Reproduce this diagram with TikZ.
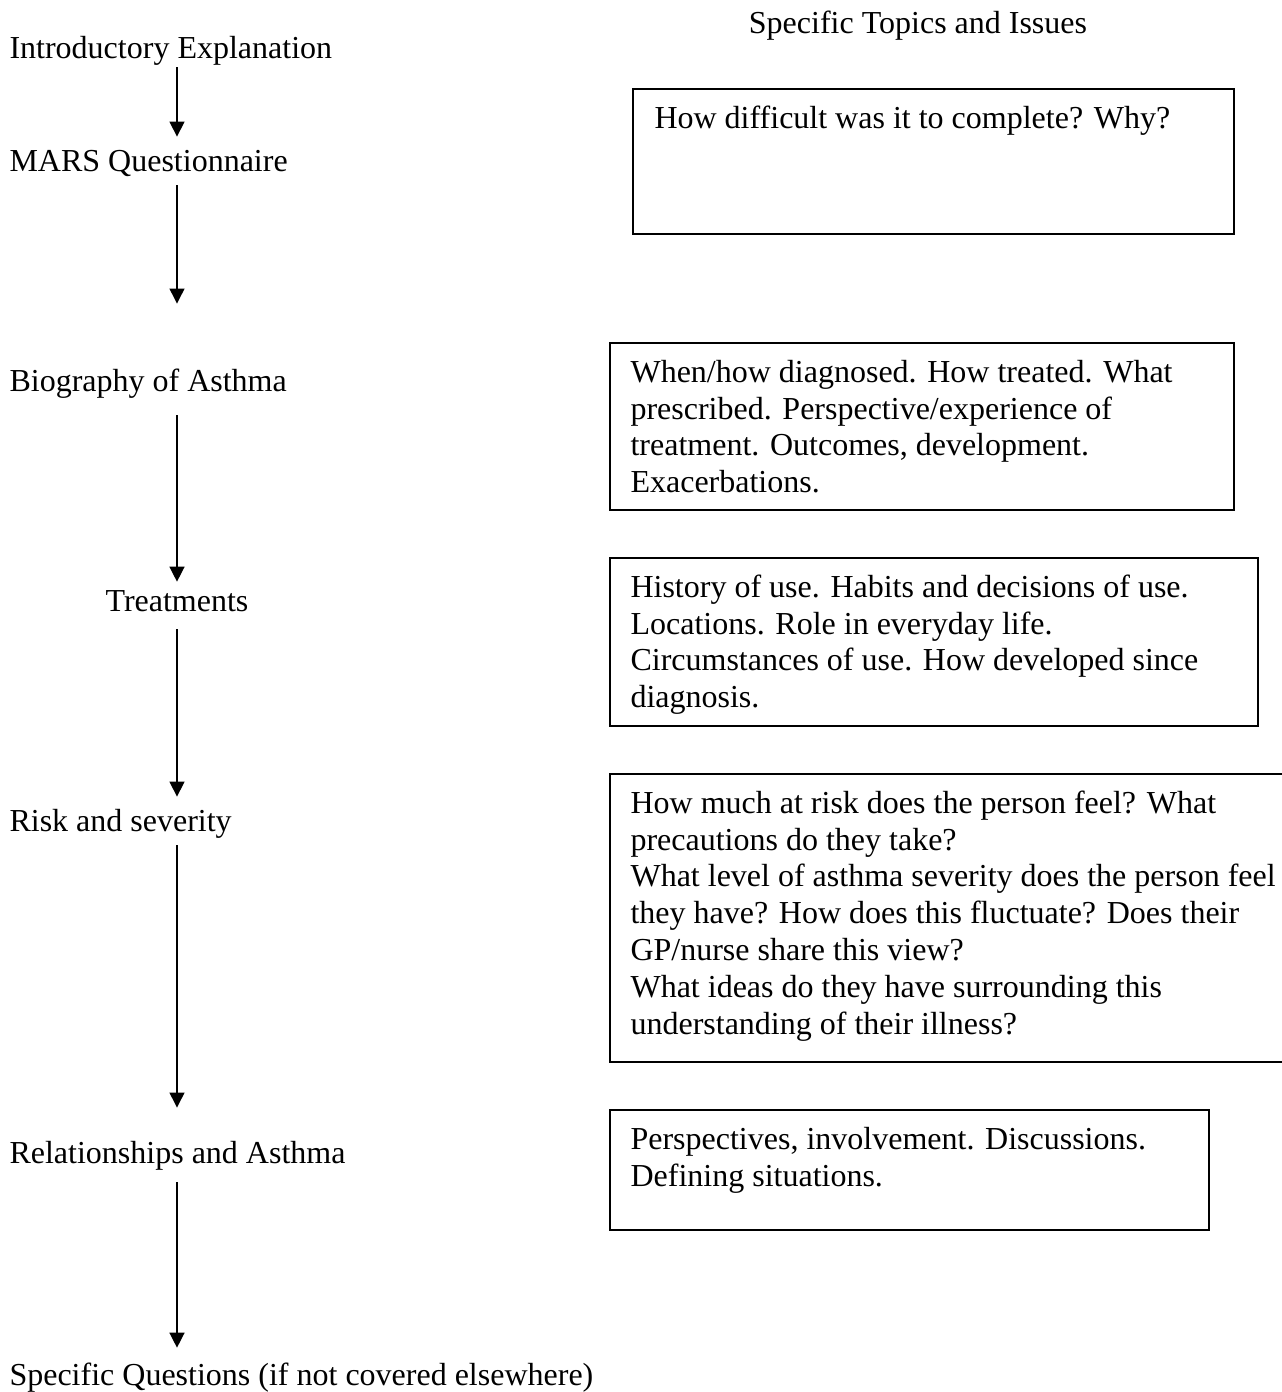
\documentclass[tikz,border=0pt]{standalone}
\usepackage{fontspec}
\setmainfont{Liberation Serif}
\usetikzlibrary{arrows.meta}

\begin{document}
\begin{tikzpicture}[
  x=0.375pt, y=-0.375pt,
  stage/.style={anchor=west, inner sep=0pt, text height=9.6pt, text depth=3pt,
    font=\fontsize{12}{13.8}\selectfont},
  topic/.style={anchor=north west, inner sep=0pt, align=left,
    font=\fontsize{12}{13.8}\selectfont},
  frame/.style={draw, line width=0.8pt},
  flow/.style={-{Triangle[length=5.6pt, width=5.6pt]}, line width=0.5pt}
]
\useasboundingbox (0,0) rectangle (1282,1392);

% left column: interview stages
\coordinate (spine) at (177,0);
\node[stage] (intro) at (9,50) {Introductory Explanation};
\node[stage] (mars) at (9,163) {MARS Questionnaire};
\node[stage] (bio) at (9,383) {Biography of Asthma};
\node[stage, anchor=center] (treat) at (177,603) {Treatments};
\node[stage] (risk) at (9,823) {Risk and severity};
\node[stage] (rel) at (9,1155) {Relationships and Asthma};
\node[stage] (spec) at (9,1377) {Specific Questions (if not covered elsewhere)};

\draw[flow, shorten >=3.4pt] (intro.south -| spine) -- (mars.north -| spine);
\draw[flow, shorten <=1.9pt, shorten >=23.3pt] (mars.south -| spine) -- (bio.north -| spine);
\draw[flow, shorten <=5.6pt, shorten >=1.5pt] (bio.south -| spine) -- (treat.north -| spine);
\draw[flow, shorten <=3.4pt, shorten >=3.4pt] (treat.south -| spine) -- (risk.north -| spine);
\draw[flow, shorten <=1.9pt, shorten >=11.3pt] (risk.south -| spine) -- (rel.north -| spine);
\draw[flow, shorten <=3.8pt, shorten >=4.5pt] (rel.south -| spine) -- (spec.north -| spine);

% right column: topics
\node[stage, anchor=center] (head) at (918,25) {Specific Topics and Issues};

\draw[frame] (633,89) rectangle (1234,234);
\node[topic] (difficulty) at (654,102) {\strut How difficult was it to complete? Why?};

\draw[frame] (610,343) rectangle (1234,510);
\node[topic] (history) at (630,356) {\strut When/how diagnosed. How treated. What\\
  prescribed. Perspective/experience of\\
  treatment. Outcomes, development.\\
  Exacerbations.};

\draw[frame] (610,558) rectangle (1258,726);
\node[topic] (usage) at (630,571) {\strut History of use. Habits and decisions of use.\\
  Locations. Role in everyday life.\\
  Circumstances of use. How developed since\\
  diagnosis.};

\draw[frame] (1282,774) -- (610,774) -- (610,1062) -- (1282,1062);
\node[topic] (severity) at (630,787) {\strut How much at risk does the person feel? What\\
  precautions do they take?\\
  What level of asthma severity does the person feel\\
  they have? How does this fluctuate? Does their\\
  GP/nurse share this view?\\
  What ideas do they have surrounding this\\
  understanding of their illness?};

\draw[frame] (610,1110) rectangle (1209,1230);
\node[topic] (others) at (630,1123) {\strut Perspectives, involvement. Discussions.\\
  Defining situations.};
\end{tikzpicture}
\end{document}
